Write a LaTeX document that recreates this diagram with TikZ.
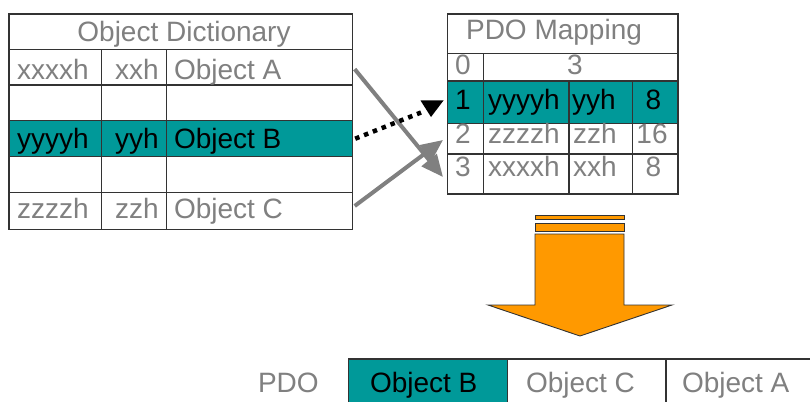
\documentclass[tikz,border=0pt]{standalone}
\usepackage{fontspec}
\setmainfont{Liberation Sans}
\usetikzlibrary{arrows.meta}
\definecolor{tealc}{HTML}{009999}
\definecolor{txtgray}{HTML}{808080}
\definecolor{orangec}{HTML}{FF9900}
\definecolor{bord}{HTML}{333333}
\begin{document}
\begin{tikzpicture}[x=1pt,y=-1pt,
  cell/.style={draw=bord, line width=1.3pt, rectangle, inner sep=0pt, outer sep=0pt, anchor=north west},
  hl/.style={fill=tealc},
  txt/.style={inner sep=0pt, outer sep=0pt, anchor=base west, font=\fontsize{28}{30}\selectfont, text=txtgray},
  txtc/.style={txt, anchor=base},
  txtb/.style={txt, text=black},
  txtbc/.style={txtc, text=black},
  garrow/.style={draw=txtgray, line width=4pt, -{Triangle[length=22pt,width=19pt]}},
  dotline/.style={draw=black, line width=4.5pt, dash pattern=on 4.5pt off 5pt},
  bigarrow/.style={draw=bord, line width=0.9pt, fill=orangec}]
\clip (0,0) rectangle (810,401);
\fill[white] (0,0) rectangle (810,401);
% ---------- Object Dictionary ----------
\node[cell, minimum width=343.7pt, minimum height=35.3pt] (odT) at (9,14) {};
\node[cell, minimum width=92.7pt, minimum height=35.7pt] (od11) at (9,49.3) {};
\node[cell, minimum width=65pt, minimum height=35.7pt] (od12) at (101.7,49.3) {};
\node[cell, minimum width=186pt, minimum height=35.7pt] (oA) at (166.7,49.3) {};
\node[cell, minimum width=92.7pt, minimum height=35.7pt] (od21) at (9,85) {};
\node[cell, minimum width=65pt, minimum height=35.7pt] (od22) at (101.7,85) {};
\node[cell, minimum width=186pt, minimum height=35.7pt] (od23) at (166.7,85) {};
\node[cell, hl, minimum width=92.7pt, minimum height=36pt] (od31) at (9,120.7) {};
\node[cell, hl, minimum width=65pt, minimum height=36pt] (od32) at (101.7,120.7) {};
\node[cell, hl, minimum width=186pt, minimum height=36pt] (oB) at (166.7,120.7) {};
\node[cell, minimum width=92.7pt, minimum height=36pt] (od41) at (9,156.7) {};
\node[cell, minimum width=65pt, minimum height=36pt] (od42) at (101.7,156.7) {};
\node[cell, minimum width=186pt, minimum height=36pt] (od43) at (166.7,156.7) {};
\node[cell, minimum width=92.7pt, minimum height=36.6pt] (od51) at (9,192.7) {};
\node[cell, minimum width=65pt, minimum height=36.6pt] (od52) at (101.7,192.7) {};
\node[cell, minimum width=186pt, minimum height=36.6pt] (oC) at (166.7,192.7) {};
\node[txtc] (odTitle) at (184,41.5) {Object Dictionary};
\node[txt] (tx1) at (17,79.5) {xxxxh};
\node[txt] (tx2) at (115,79.5) {xxh};
\node[txt] (tx3) at (174,79.5) {Object A};
\node[txtb] (ty1) at (17,148) {yyyyh};
\node[txtb] (ty2) at (115,148) {yyh};
\node[txtb] (ty3) at (174,148) {Object B};
\node[txt] (tz1) at (17,218) {zzzzh};
\node[txt] (tz2) at (115,218) {zzh};
\node[txt] (tz3) at (174,218) {Object C};
% ---------- PDO Mapping ----------
\node[cell, minimum width=230.3pt, minimum height=39.3pt] (pmT) at (447.7,14) {};
\node[cell, minimum width=35.6pt, minimum height=27.7pt] (p00) at (447.7,53.3) {};
\node[cell, minimum width=194.7pt, minimum height=27.7pt] (p01) at (483.3,53.3) {};
\node[cell, hl, minimum width=35.6pt, minimum height=42.3pt] (p10) at (447.7,81) {};
\node[cell, hl, minimum width=85.7pt, minimum height=42.3pt] (p11) at (483.3,81) {};
\node[cell, hl, minimum width=63.3pt, minimum height=42.3pt] (p12) at (569,81) {};
\node[cell, hl, minimum width=45.7pt, minimum height=42.3pt] (p13) at (632.3,81) {};
\node[cell, minimum width=35.6pt, minimum height=30.7pt] (p2) at (447.7,123.3) {};
\node[cell, minimum width=85.7pt, minimum height=30.7pt] (p21) at (483.3,123.3) {};
\node[cell, minimum width=63.3pt, minimum height=30.7pt] (p22) at (569,123.3) {};
\node[cell, minimum width=45.7pt, minimum height=30.7pt] (p23) at (632.3,123.3) {};
\node[cell, minimum width=35.6pt, minimum height=40pt] (p3) at (447.7,154) {};
\node[cell, minimum width=85.7pt, minimum height=40pt] (p31) at (483.3,154) {};
\node[cell, minimum width=63.3pt, minimum height=40pt] (p32) at (569,154) {};
\node[cell, minimum width=45.7pt, minimum height=40pt] (p33) at (632.3,154) {};
\node[txtc] (pmTitle) at (554,40) {PDO Mapping};
\node[txt] (q00) at (455,75) {0};
\node[txtc] (q01) at (575,75) {3};
\node[txtb] (q10) at (455,110) {1};
\node[txtb] (q11) at (488,110) {yyyyh};
\node[txtb] (q12) at (572,110) {yyh};
\node[txtbc] (q13) at (653.5,110) {8};
\node[txt] (q20) at (455,143.3) {2};
\node[txt] (q21) at (488,143.3) {zzzzh};
\node[txt] (q22) at (573,143.3) {zzh};
\node[txtc] (q23) at (652,143.3) {16};
\node[txt] (q30) at (455,176.7) {3};
\node[txt] (q31) at (488,176.7) {xxxxh};
\node[txt] (q32) at (573,176.7) {xxh};
\node[txtc] (q33) at (653.5,176.7) {8};
% ---------- connectors ----------
\coordinate (a1end) at (443,177);
\coordinate (a2end) at (443,140);
\coordinate (dend) at (421,112.5);
\draw[garrow] ([xshift=2pt,yshift=-2pt]oA.east) -- (a1end);
\draw[garrow] ([xshift=2pt,yshift=5pt]oC.east) -- (a2end);
\draw[dotline] ([xshift=2.5pt]oB.east) -- (dend);
\fill[black] (420.5,100.5) -- (443.5,100.5) -- (431,117) -- cycle;
% ---------- big orange arrow ----------
\draw[bigarrow] (535,215) rectangle (624,219);
\draw[bigarrow] (535,223) rectangle (624,231);
\draw[bigarrow] (535,234) -- (624,234) -- (624,305) -- (672,305) -- (580,336) -- (488,305) -- (535,305) -- cycle;
% ---------- PDO frame ----------
\node[cell, hl, minimum width=159.4pt, minimum height=55pt] (fB) at (348.3,359) {};
\node[cell, minimum width=158.3pt, minimum height=55pt] (fC) at (507.7,359) {};
\node[cell, minimum width=164pt, minimum height=55pt] (fA) at (666,359) {};
\node[txt] (pdoLbl) at (258,392) {PDO};
\node[txtb] (fBt) at (370,392) {Object B};
\node[txt] (fCt) at (526,392) {Object C};
\node[txt] (fAt) at (682,392) {Object A};
\end{tikzpicture}
\end{document}
